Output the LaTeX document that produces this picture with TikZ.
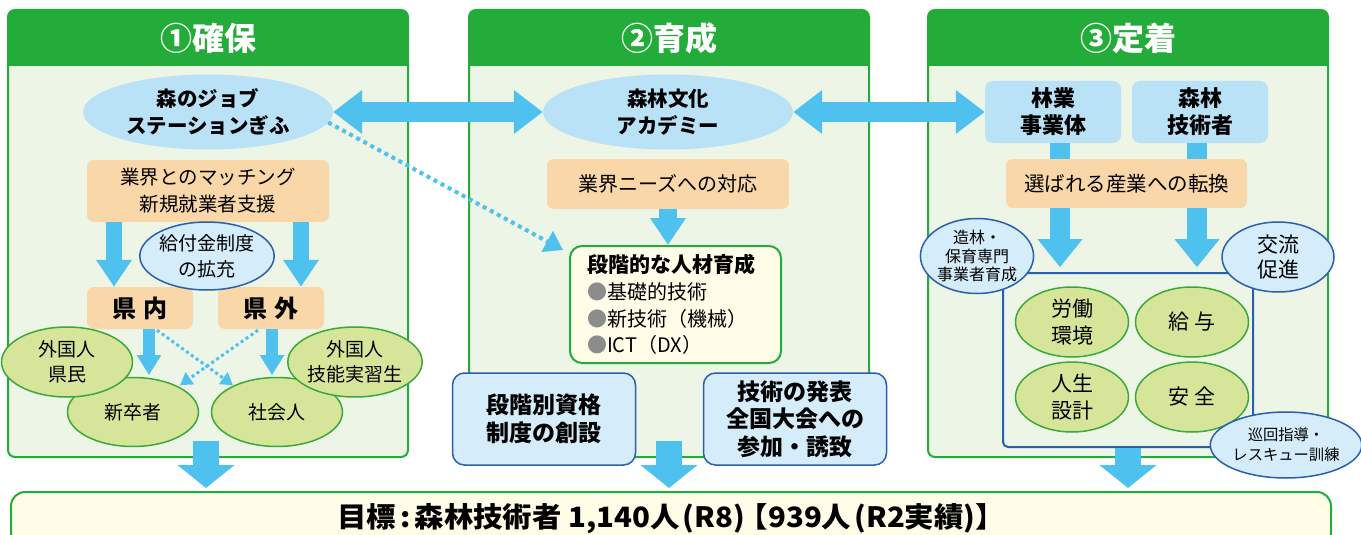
\documentclass[tikz,border=0pt]{standalone}
\usepackage{fontspec}
\usepackage{graphicx}
\setmainfont{Noto Sans CJK JP}
\usetikzlibrary{arrows.meta,shapes.geometric,calc}
\definecolor{hdr}{HTML}{23AC39}
\definecolor{panelbg}{HTML}{EDF5E7}
\definecolor{orng}{HTML}{F9D7A8}
\definecolor{lblue}{HTML}{BAE2F7}
\definecolor{pblue}{HTML}{D5ECFA}
\definecolor{dblue}{HTML}{2A5FAE}
\definecolor{arrc}{HTML}{4FC1EF}
\definecolor{gfill}{HTML}{D7E59B}
\definecolor{gline}{HTML}{3BA83A}
\definecolor{yfill}{HTML}{FFFDE7}
\definecolor{bulletc}{HTML}{8C8C8C}
\newcommand{\fsz}[2]{\fontsize{#1}{#2}\selectfont}
\begin{document}
\begin{tikzpicture}[x=1pt,y=-1pt,
 panel/.style={draw=hdr, line width=2pt, fill=panelbg, rounded corners=7pt, minimum width=400pt, minimum height=447pt, anchor=north west, inner sep=0pt, outer sep=0pt},
 ptitle/.style={text=white, font=\bfseries\fsz{32}{36}},
 ell/.style={ellipse, inner sep=0pt, align=center},
 lell/.style={ell, fill=lblue, font=\bfseries\fsz{20.5}{27}, minimum width=250pt, minimum height=75pt},
 pell/.style={ell, fill=pblue, draw=dblue, line width=1.5pt},
 gell/.style={ell, fill=gfill, draw=gline, line width=1.5pt},
 obox/.style={rectangle, rounded corners=7pt, fill=orng, align=center, inner sep=0pt},
 bbox/.style={rectangle, rounded corners=12pt, fill=pblue, draw=dblue, line width=1.5pt, align=center, inner sep=0pt, font=\bfseries\fsz{23}{27.5}, minimum width=183pt, minimum height=92pt},
 lbox/.style={rectangle, rounded corners=8pt, fill=lblue, align=center, inner sep=0pt, font=\bfseries\fsz{22}{27}, minimum width=136pt, minimum height=62pt},
 barrow/.style n args={3}{draw=arrc, line width=#1, -{Triangle[width=#2,length=#3]}},
 darrow/.style={draw=arrc, line width=20pt, {Triangle[width=42pt,length=29pt]}-{Triangle[width=42pt,length=29pt]}},
 dotarrow/.style n args={3}{draw=arrc, line width=#1, dash pattern=on #1 off #1, -{Triangle[width=#2,length=#3]}},
 bar/.style={draw=arrc, line width=20pt},
]
\useasboundingbox (0,0) rectangle (1361,535);
\clip (0,0) rectangle (1361,535);

% panels
\node[panel] (P1) at (8,10) {};
\node[panel] (P2) at (469,10) {};
\node[panel] (P3) at (928,10) {};
\foreach \p in {P1,P2,P3}{
  \begin{scope}
    \clip (\p.north west) rectangle ($(\p.north east)+(0,56)$);
    \fill[hdr, rounded corners=7pt] (\p.north west) rectangle ($(\p.south east)+(0,-200)$);
  \end{scope}
}
\node[ptitle] (T1) at (208,38) {①確保};
\node[ptitle] (T2) at (669,38) {②育成};
\node[ptitle] (T3) at (1128,38) {③定着};

% panel 1
\node[lell] (J) at (208,112) {森のジョブ\\ステーションぎふ};
\node[obox, minimum width=242pt, minimum height=62pt, font=\fsz{19.5}{27}] (M) at (208,191) {業界とのマッチング\\新規就業者支援};
\node[obox, minimum width=106pt, minimum height=42pt, font=\bfseries\fsz{24}{28}] (KN) at (140,308) {県\hspace{7pt}内};
\node[obox, minimum width=106pt, minimum height=42pt, font=\bfseries\fsz{24}{28}] (KG) at (271,308) {県\hspace{7pt}外};
\node[pell, minimum width=132pt, minimum height=68pt, font=\fsz{19}{26}] (KF) at (207,256) {給付金制度\\の拡充};
\node[gell, minimum width=131pt, minimum height=69pt, font=\fsz{19}{25}] (SS) at (133,412) {新卒者};
\node[gell, minimum width=131pt, minimum height=69pt, font=\fsz{19}{25}] (SK) at (277,412) {社会人};
\node[gell, minimum width=131pt, minimum height=70pt, font=\fsz{19}{25}] (GK) at (67,362) {外国人\\県民};
\node[gell, minimum width=131pt, minimum height=70pt, font=\fsz{19}{25}] (GG) at (355,362) {外国人\\技能実習生};

\draw[barrow={16pt}{34pt}{27pt}] ($(M.south)+(-94,0)$) -- ($(KN.north)+(-26,0)$);
\draw[barrow={16pt}{34pt}{27pt}] ($(M.south)+(93,0)$) -- ($(KG.north)+(30,0)$);
\draw[barrow={12pt}{23pt}{20pt}] ($(KN.south)+(9,0)$) -- ($(KN.south)+(9,46)$);
\draw[barrow={12pt}{23pt}{20pt}] ($(KG.south)+(1,0)$) -- ($(KG.south)+(1,46)$);
\draw[dotarrow={3pt}{14pt}{12pt}] ($(KN.south)+(17,1)$) -- ($(KN.south)+(93,56)$);
\draw[dotarrow={3pt}{14pt}{12pt}] ($(KG.south)+(-13,1)$) -- ($(KG.south)+(-91,56)$);

% panel 2
\node[lell] (A) at (668,112) {森林文化\\アカデミー};
\node[obox, minimum width=242pt, minimum height=50pt, font=\fsz{20}{27}] (NZ) at (668,184) {業界ニーズへの対応};
\node[rectangle, rounded corners=12pt, fill=yfill, draw=hdr, line width=2pt, text width=177pt, inner xsep=17pt, inner ysep=0pt, minimum height=117pt, align=left, font=\fsz{20}{26.7}, anchor=north west] (ST) at (569,245) {{\bfseries\fsz{21}{26.7}段階的な人材育成}\\\textcolor{bulletc}{●}基礎的技術\\\textcolor{bulletc}{●}新技術（機械）\\\textcolor{bulletc}{●}ICT（DX）};
\node[bbox] (QS) at (544,419) {段階別資格\\制度の創設};
\node[bbox] (TA) at (795,419) {技術の発表\\全国大会への\\参加・誘致};
\draw[barrow={18pt}{34pt}{27pt}] (NZ.south) -- (NZ.south |- ST.north);

% panel 3
\node[lbox] (RB) at (1053,112) {林業\\事業体};
\node[lbox] (RG) at (1200,112) {森林\\技術者};
\node[obox, minimum width=241pt, minimum height=49pt, font=\fsz{20.5}{27}] (ER) at (1126.5,183.5) {選ばれる産業への転換};
\draw[bar] ($(RB.south)+(7,0)$) -- ($(RB.south |- ER.north)+(7,0)$);
\draw[bar] ($(RG.south)+(-3,0)$) -- ($(RG.south |- ER.north)+(-3,0)$);
\node[rectangle, draw=dblue, line width=2pt, rounded corners=5pt, minimum width=250pt, minimum height=174pt, inner sep=0pt] (IB) at (1128,360) {};
\draw[barrow={20pt}{43pt}{28pt}] ($(ER.south)+(-66.5,0)$) -- ($(ER.south)+(-66.5,59)$);
\draw[barrow={20pt}{43pt}{28pt}] ($(ER.south)+(70.5,0)$) -- ($(ER.south)+(70.5,59)$);
\node[gell, minimum width=113pt, minimum height=70pt, font=\fsz{21}{27}] (RK) at (1072,322) {労働\\環境};
\node[gell, minimum width=113pt, minimum height=70pt, font=\fsz{21}{27}] (KY) at (1192,322) {給\hspace{6pt}与};
\node[gell, minimum width=113pt, minimum height=70pt, font=\fsz{21}{27}] (JS) at (1072,397) {人生\\設計};
\node[gell, minimum width=113pt, minimum height=70pt, font=\fsz{21}{27}] (AZ) at (1192,397) {安\hspace{6pt}全};
\node[pell, minimum width=112pt, minimum height=75pt, font=\fsz{16}{18.5}] (ZR) at (977,256) {造林・\\保育専門\\事業者育成};
\node[pell, minimum width=112pt, minimum height=70pt, font=\fsz{21}{25}] (KR) at (1278,257) {交流\\促進};
\node[pell, minimum width=128pt, minimum height=66pt, font=\fsz{15.3}{20}] (JK) at (1286,445) {巡回指導・\\レスキュー訓練};

% cross arrows
\draw[darrow] (J.east) -- (A.west);
\draw[darrow] (A.east) -- (RB.west);
\draw[dotarrow={4pt}{23pt}{18pt}] (J.-5) -- ($(ST.north west)+(-6,5)$);

% goal
\node[rectangle, rounded corners=14pt, fill=yfill, draw=hdr, line width=2pt, minimum width=1320pt, minimum height=54pt, anchor=north west, font=\bfseries\fsz{28}{30}] (G) at (10,491) {\scalebox{1.05}[1]{目標\hspace{4pt}:\hspace{4pt}森林技術者 1,140人\hspace{3pt}(R8)\hspace{-6pt}【939人\hspace{3pt}(R2実績)】}};
\draw[barrow={26pt}{56pt}{23pt}] ($(P1.south)+(-2,-16)$) -- ($(P1.south |- G.north)+(-2,-3)$);
\draw[barrow={26pt}{56pt}{23pt}] ($(P2.south)+(0,-16)$) -- ($(P2.south |- G.north)+(0,-3)$);
\draw[barrow={26pt}{56pt}{23pt}] (IB.south) -- ($(IB.south |- G.north)+(0,-3)$);
\end{tikzpicture}
\end{document}
